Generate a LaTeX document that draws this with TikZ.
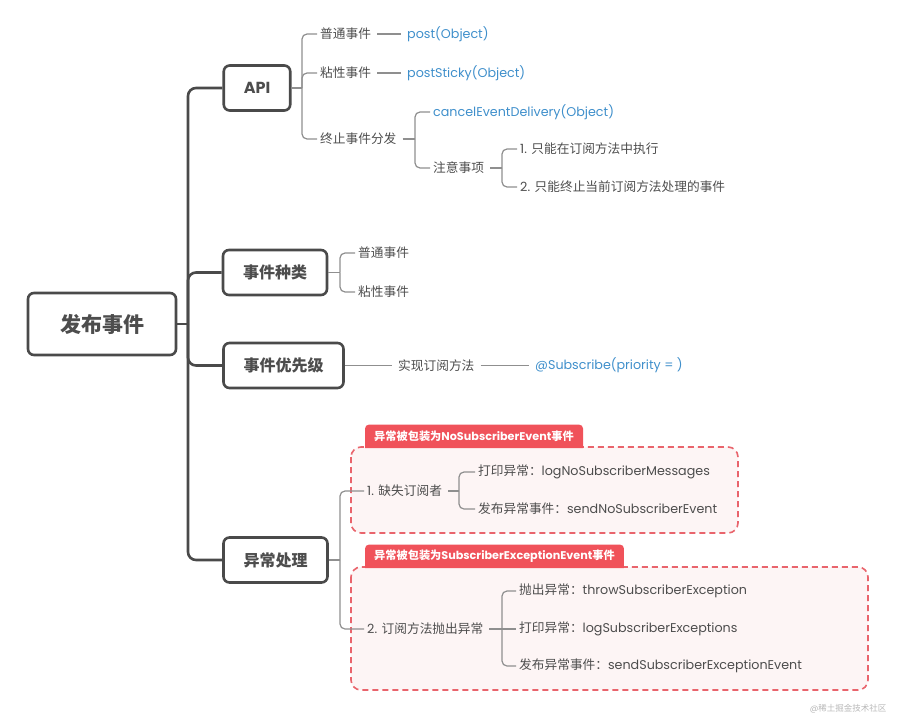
\documentclass[tikz,border=0pt]{standalone}
\usepackage{fontspec}
\setmainfont{Poppins}
\newfontfamily\cjk{Noto Sans CJK SC}
\newcommand{\zh}[1]{{\cjk #1}}
\usepackage{xcolor}
\usetikzlibrary{positioning, backgrounds}

\definecolor{boxline}{HTML}{4A4A4A}
\definecolor{linegrey}{HTML}{8F8F8F}
\definecolor{textdark}{HTML}{4D4D4D}
\definecolor{codeblue}{HTML}{3F8FCB}
\definecolor{tabred}{HTML}{F0525A}
\definecolor{groupred}{HTML}{E9646C}
\definecolor{grouppink}{HTML}{FDF5F5}

\begin{document}
\begin{tikzpicture}[x=1pt, y=-1pt,
  topic/.style={draw=boxline, line width=2.6pt, rounded corners=6pt, fill=white,
    text=textdark, font=\bfseries\fontsize{16}{18}\selectfont,
    minimum height=45pt, inner xsep=20pt},
  leaf/.style={anchor=west, inner sep=3pt, text=textdark,
    font=\fontsize{12.7}{15}\selectfont},
  code/.style={leaf, text=codeblue},
  branch/.style={draw=linegrey, line width=1.2pt, rounded corners=5pt},
  link/.style={branch, shorten <=3pt, shorten >=3pt},
  trunk/.style={draw=boxline, line width=2.6pt, rounded corners=8pt},
  tab/.style={text=white, font=\bfseries\fontsize{11.2}{12}\selectfont,
    inner xsep=9pt, inner ysep=0pt, minimum height=23pt, anchor=south west},
  group/.style={draw=groupred, fill=grouppink, line width=1.6pt,
    dash pattern=on 6pt off 4pt, rounded corners=10pt}]
  \useasboundingbox (0,0) rectangle (902,728);

  % root and first level
  \node[topic, font=\bfseries\fontsize{21}{24}\selectfont, minimum width=148pt,
    minimum height=62pt] (main) at (102,324) {\zh{发布事件}};
  \node[topic] (api) at (257,88) {API};
  \node[topic] (kind) at (275,272.5) {\zh{事件种类}};
  \node[topic] (prio) at (283.5,365.5) {\zh{事件优先级}};
  \node[topic] (err) at (275.5,560) {\zh{异常处理}};
  \coordinate (tk) at (188,324);
  \draw[trunk] (main.east) -- (tk);
  \draw[trunk] (api.west) -| (tk) |- (err.west);
  \draw[trunk] (tk) |- (kind.west);
  \draw[trunk] (tk) |- (prio.west);

  % API
  \coordinate (apij) at (302,88);
  \node[leaf] (a1) at (317,34) {\zh{普通事件}};
  \node[code] (a1c) at (404,34) {post(Object)};
  \node[leaf] (a2) at (317,73) {\zh{粘性事件}};
  \node[code] (a2c) at (404,73) {postSticky(Object)};
  \node[leaf] (a3) at (317,139) {\zh{终止事件分发}};
  \draw[branch] (api.east) -- (apij);
  \draw[branch] (apij) |- (a1.west);
  \draw[branch] (apij) |- (a2.west);
  \draw[branch] (apij) |- (a3.west);
  \draw[link] (a1) -- (a1c);
  \draw[link] (a2) -- (a2c);

  \coordinate (a3j) at (415,139);
  \node[code] (a31) at (430,112) {cancelEventDelivery(Object)};
  \node[leaf] (a32) at (430,168) {\zh{注意事项}};
  \draw[branch, shorten <=3pt] (a3.east) -- (a3j);
  \draw[branch] (a3j) |- (a31.west);
  \draw[branch] (a3j) |- (a32.west);

  \coordinate (a32j) at (502,168);
  \node[leaf] (a321) at (517,149) {1. \zh{只能在订阅方法中执行}};
  \node[leaf] (a322) at (517,187) {2. \zh{只能终止当前订阅方法处理的事件}};
  \draw[branch, shorten <=3pt] (a32.east) -- (a32j);
  \draw[branch] (a32j) |- (a321.west);
  \draw[branch] (a32j) |- (a322.west);

  % event kinds
  \coordinate (kindj) at (340,272.5);
  \node[leaf] (k1) at (355,253) {\zh{普通事件}};
  \node[leaf] (k2) at (355,292) {\zh{粘性事件}};
  \draw[branch] (kind.east) -- (kindj);
  \draw[branch] (kindj) |- (k1.west);
  \draw[branch] (kindj) |- (k2.west);

  % priority
  \node[leaf] (p1) at (395,365.5) {\zh{实现订阅方法}};
  \node[code] (p1c) at (532,365.5) {@Subscribe(priority = )};
  \draw[branch, shorten >=3pt] (prio.east) -- (p1.west);
  \draw[link] (p1) -- (p1c);

  % exceptions
  \begin{scope}[on background layer]
    \draw[group] (351,447) rectangle (738,533);
    \draw[group] (351,567) rectangle (868,690);
  \end{scope}
  \node[tab] (tab1) at (365,448) {\zh{异常被包装为}NoSubscriberEvent\zh{事件}};
  \node[tab] (tab2) at (365,568) {\zh{异常被包装为}SubscriberExceptionEvent\zh{事件}};
  \begin{scope}[on background layer]
    \fill[tabred, rounded corners=4pt] (tab1.south west) -- (tab1.north west)
      -- (tab1.north east) -- (tab1.south east);
    \fill[tabred, rounded corners=4pt] (tab2.south west) -- (tab2.north west)
      -- (tab2.north east) -- (tab2.south east);
  \end{scope}

  \coordinate (errj) at (340,560);
  \node[leaf] (e1) at (364,491) {1. \zh{缺失订阅者}};
  \node[leaf] (e2) at (364,629) {2. \zh{订阅方法抛出异常}};
  \draw[branch] (err.east) -- (errj);
  \draw[branch] (errj) |- (e1.west);
  \draw[branch] (errj) |- (e2.west);

  \coordinate (e1j) at (459,491);
  \node[leaf] (e11) at (475,472) {\zh{打印异常：}logNoSubscriberMessages};
  \node[leaf] (e12) at (475,509) {\zh{发布异常事件：}sendNoSubscriberEvent};
  \draw[branch, shorten <=3pt] (e1.east) -- (e1j);
  \draw[branch] (e1j) |- (e11.west);
  \draw[branch] (e1j) |- (e12.west);

  \coordinate (e2j) at (502,629);
  \node[leaf] (e21) at (516,591) {\zh{抛出异常：}throwSubscriberException};
  \node[leaf] (e22) at (516,629) {\zh{打印异常：}logSubscriberExceptions};
  \node[leaf] (e23) at (516,666) {\zh{发布异常事件：}sendSubscriberExceptionEvent};
  \draw[branch, shorten <=3pt] (e2.east) -- (e2j);
  \draw[branch] (e2j) |- (e21.west);
  \draw[branch] (e2j) -- (e22.west);
  \draw[branch] (e2j) |- (e23.west);

  \node[anchor=east, text=black!28, font=\fontsize{8.5}{10}\selectfont]
    (wm) at (890,709) {@\zh{稀土掘金技术社区}};
\end{tikzpicture}
\end{document}
